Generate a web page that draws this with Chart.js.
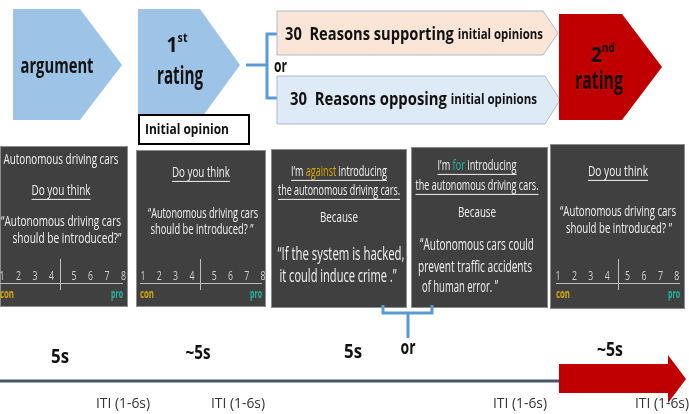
<!DOCTYPE html>
<html>
<head>
<meta charset="utf-8">
<script src="https://cdn.jsdelivr.net/npm/chart.js@4"></script>
<style>
  html, body { margin: 0; padding: 0; background: #fff; }
  #wrap { width: 689px; height: 414px; }
</style>
</head>
<body>
<div id="wrap"><canvas id="chart" width="689" height="414"></canvas></div>
<script>
// --- Data ---
const stageLabels = ['argument', '1st rating', '2nd rating'];
const reasonLabels = [
    ['30  ', 'Reasons supporting ', 'initial opinions'],
    ['30  ', 'Reasons opposing ', 'initial opinions']
];
const durationLabels = ['5s', '~5s', '5s', '~5s'];
const itiLabels = ['ITI (1-6s)', 'ITI (1-6s)', 'ITI (1-6s)', 'ITI (1-6s)'];
const ratingTicks = [1, 2, 3, 4, 5, 6, 7, 8];
const questionLines = ['\u201CAutonomous driving cars', 'should be introduced?\u201D'];
const againstLines = ['\u201CIf the system is hacked,', 'it could induce crime .\u201D'];
const forLines = ['\u201CAutonomous cars could', 'prevent traffic accidents', 'of human error. \u201D'];

// --- Look ---
const FONT = '"Open Sans", "Noto Sans", sans-serif';
const C = {
    blue: '#9dc3e6', peach: '#fbe5d6', paleBlue: '#deebf7', edge: '#adb9ca',
    red: '#c00000', brace: '#5b9bd5', panel: '#404040', panelEdge: '#8c8c8c',
    text: '#f2f2f2', gold: '#d6a800', teal: '#1fb89c', axis: '#44546a', ink: '#111'
};

function txt(ctx, s, x, y, o) {
    ctx.save();
    ctx.font = (o.bold ? 'bold ' : '') + o.size + 'px ' + FONT;
    const m = ctx.measureText(s).width;
    const sx = o.w ? o.w / m : 0.86;
    ctx.translate(x, y);
    ctx.scale(sx, 1);
    ctx.textAlign = o.align || 'center';
    ctx.textBaseline = 'middle';
    ctx.fillStyle = o.color || C.ink;
    ctx.fillText(s, 0, 0);
    ctx.restore();
    return m * sx;
}

// several coloured pieces on one line, fitted to width w around cx
function runs(ctx, parts, cx, y, o) {
    ctx.save();
    const widths = parts.map(p => {
        ctx.font = (o.bold || p.bold ? 'bold ' : '') + (p.size || o.size) + 'px ' + FONT;
        return ctx.measureText(p.t).width;
    });
    const total = widths.reduce((a, b) => a + b, 0);
    const sx = o.w ? o.w / total : 0.86;
    let x = o.align === 'left' ? cx : cx - total * sx / 2;
    const x0 = x;
    parts.forEach((p, i) => {
        ctx.save();
        ctx.font = (o.bold || p.bold ? 'bold ' : '') + (p.size || o.size) + 'px ' + FONT;
        ctx.translate(x, y + (p.dy || 0));
        ctx.scale(sx, 1);
        ctx.textAlign = 'left';
        ctx.textBaseline = 'middle';
        ctx.fillStyle = p.color || o.color;
        ctx.fillText(p.t, 0, 0);
        ctx.restore();
        x += widths[i] * sx;
    });
    if (o.underline) {
        ctx.strokeStyle = o.color;
        ctx.lineWidth = 1;
        ctx.beginPath();
        ctx.moveTo(x0, y + o.size * 0.6);
        ctx.lineTo(x, y + o.size * 0.6);
        ctx.stroke();
    }
    ctx.restore();
}

function poly(ctx, pts, fill, stroke) {
    ctx.beginPath();
    pts.forEach((p, i) => i ? ctx.lineTo(p[0], p[1]) : ctx.moveTo(p[0], p[1]));
    ctx.closePath();
    ctx.fillStyle = fill;
    ctx.fill();
    if (stroke) { ctx.strokeStyle = stroke; ctx.lineWidth = 1; ctx.stroke(); }
}

function ratingScale(ctx, x0, step, gap, divX, left, right) {
    ratingTicks.forEach((t, i) => {
        txt(ctx, String(t), x0 + i * step + (i >= 4 ? gap : 0), 277, { size: 12, color: '#d0d0d0', w: 5 });
    });
    ctx.strokeStyle = '#bdbdbd';
    ctx.lineWidth = 1;
    ctx.beginPath();
    ctx.moveTo(left, 283.5); ctx.lineTo(right, 283.5);
    ctx.moveTo(divX + 0.5, 259); ctx.lineTo(divX + 0.5, 290);
    ctx.stroke();
    txt(ctx, 'con', left, 295, { size: 12, bold: true, color: C.gold, align: 'left', w: 14 });
    txt(ctx, 'pro', right, 295, { size: 12, bold: true, color: C.teal, align: 'right', w: 12 });
}

const diagram = {
    id: 'diagram',
    afterDraw(chart) {
        const ctx = chart.ctx;
        const X = v => chart.scales.x.getPixelForValue(v);
        const Y = v => chart.scales.y.getPixelForValue(v);
        const P = (a, b) => [X(a), Y(b)];

        // --- top row of arrows ---
        poly(ctx, [P(13, 9), P(80, 9), P(122, 65), P(80, 120), P(13, 120)], C.blue);
        txt(ctx, stageLabels[0], X(57), Y(67), { size: 21, bold: true, w: 73 });

        poly(ctx, [P(138, 9), P(200, 9), P(240, 65), P(200, 120), P(138, 120)], C.blue);
        runs(ctx, [{ t: '1' }, { t: 'st', size: 12, dy: -7 }], X(177), Y(46), { size: 22, bold: true, color: C.ink, w: 21 });
        txt(ctx, 'rating', X(180), Y(77), { size: 25, bold: true, w: 46 });

        ctx.fillStyle = '#fff';
        ctx.fillRect(X(138), Y(114), 112, 31);
        ctx.strokeStyle = '#000';
        ctx.lineWidth = 2;
        ctx.strokeRect(X(139), Y(115), 110, 29);
        txt(ctx, 'Initial opinion', X(145), Y(130), { size: 15, bold: true, align: 'left', w: 84 });

        // brace to the two reason boxes
        ctx.strokeStyle = C.brace;
        ctx.lineWidth = 3;
        ctx.beginPath();
        ctx.moveTo(X(246), Y(65)); ctx.lineTo(X(267), Y(65));
        ctx.moveTo(X(277), Y(34)); ctx.lineTo(X(267), Y(34)); ctx.lineTo(X(267), Y(98)); ctx.lineTo(X(277), Y(98));
        ctx.stroke();
        txt(ctx, 'or', X(274), Y(67), { size: 17, bold: true, align: 'left', w: 13 });

        poly(ctx, [P(277, 11), P(543, 11), P(558, 33), P(543, 55), P(277, 55)], C.peach, C.edge);
        poly(ctx, [P(277, 76), P(545, 76), P(560, 100), P(545, 124), P(277, 124)], C.paleBlue, C.edge);
        runs(ctx, [{ t: reasonLabels[0][0] }, { t: reasonLabels[0][1] }, { t: reasonLabels[0][2], size: 14 }],
            X(285), Y(35), { size: 18, bold: true, color: C.ink, align: 'left', w: 258 });
        runs(ctx, [{ t: reasonLabels[1][0] }, { t: reasonLabels[1][1] }, { t: reasonLabels[1][2], size: 14 }],
            X(290), Y(100), { size: 18, bold: true, color: C.ink, align: 'left', w: 247 });

        poly(ctx, [P(559, 14), P(622, 14), P(662, 67), P(622, 120), P(559, 120)], C.red);
        runs(ctx, [{ t: '2' }, { t: 'nd', size: 12, dy: -7 }], X(603), Y(56), { size: 22, bold: true, color: C.ink, w: 24 });
        txt(ctx, 'rating', X(599), Y(82), { size: 25, bold: true, w: 48 });

        // --- screens ---
        const panels = [[0, 146, 128, 307], [136, 150, 266, 307], [271, 149, 407, 308], [411, 147, 548, 308], [550, 144, 685, 309]];
        panels.forEach(([l, t, r, b]) => {
            ctx.fillStyle = C.panel;
            ctx.fillRect(X(l), Y(t), X(r) - X(l), Y(b) - Y(t));
            ctx.strokeStyle = C.panelEdge;
            ctx.lineWidth = 1;
            ctx.strokeRect(X(l) + 0.5, Y(t) + 0.5, X(r) - X(l) - 1, Y(b) - Y(t) - 1);
        });
        const W = { size: 14, color: C.text };

        // screen 1: argument
        txt(ctx, 'Autonomous driving cars', X(61), Y(160), { ...W, w: 115 });
        runs(ctx, [{ t: 'Do you think' }], X(61), Y(191), { ...W, w: 59, underline: true });
        txt(ctx, questionLines[0], X(61), Y(222), { ...W, w: 120 });
        txt(ctx, questionLines[1], X(67), Y(239), { ...W, w: 109 });
        ratingScale(ctx, 2, 16.5, 6, 60, 0, 123);

        // screen 2: first rating
        runs(ctx, [{ t: 'Do you think' }], X(201), Y(173), { ...W, w: 58, underline: true });
        txt(ctx, questionLines[0], X(203), Y(214), { ...W, w: 110 });
        txt(ctx, questionLines[1].replace('?\u201D', '? \u201D'), X(202), Y(230), { ...W, w: 103 });
        ratingScale(ctx, 143, 16.3, 6, 200, 140, 262);

        // screen 3: against
        runs(ctx, [{ t: 'I\u2019m ' }, { t: 'against', color: C.gold }, { t: ' introducing' }], X(339), Y(172), { ...W, w: 96, underline: true });
        runs(ctx, [{ t: 'the autonomous driving cars.' }], X(339), Y(191), { ...W, w: 122, underline: true });
        txt(ctx, 'Because', X(339), Y(218), { ...W, size: 15, w: 38 });
        txt(ctx, againstLines[0], X(341), Y(255), { ...W, size: 18, w: 127 });
        txt(ctx, againstLines[1], X(338), Y(277), { ...W, size: 18, w: 117 });

        // screen 4: for
        runs(ctx, [{ t: 'I\u2019m ' }, { t: 'for', color: C.teal }, { t: ' introducing' }], X(477), Y(166), { ...W, w: 79, underline: true });
        runs(ctx, [{ t: 'the autonomous driving cars.' }], X(477), Y(186), { ...W, w: 123, underline: true });
        txt(ctx, 'Because', X(477), Y(213), { ...W, size: 15, w: 38 });
        txt(ctx, forLines[0], X(477), Y(245), { ...W, size: 16, w: 114 });
        txt(ctx, forLines[1], X(475), Y(267), { ...W, size: 16, w: 114 });
        txt(ctx, forLines[2], X(422), Y(287), { ...W, size: 16, w: 76, align: 'left' });

        // screen 5: second rating
        runs(ctx, [{ t: 'Do you think' }], X(618), Y(172), { ...W, w: 60, underline: true });
        txt(ctx, questionLines[0], X(618), Y(212), { ...W, w: 116 });
        txt(ctx, questionLines[1].replace('?\u201D', '? \u201D'), X(619), Y(229), { ...W, w: 106 });
        ratingScale(ctx, 558, 16.4, 4, 618, 556, 680);

        // brace under screens 3 and 4
        ctx.strokeStyle = C.brace;
        ctx.lineWidth = 3;
        ctx.beginPath();
        ctx.moveTo(X(383), Y(305)); ctx.lineTo(X(383), Y(313)); ctx.lineTo(X(432), Y(313)); ctx.lineTo(X(432), Y(305));
        ctx.moveTo(X(408), Y(313)); ctx.lineTo(X(408), Y(338));
        ctx.stroke();

        // --- time line ---
        ctx.strokeStyle = C.axis;
        ctx.lineWidth = 3;
        ctx.beginPath();
        ctx.moveTo(X(0), Y(381)); ctx.lineTo(X(560), Y(381));
        ctx.stroke();
        poly(ctx, [P(559, 364), P(668, 364), P(668, 355), P(686, 379), P(668, 403), P(668, 393), P(559, 393)], C.red);

        const durX = [60, 198, 353, 610], durY = [357, 353, 352, 350], durW = [18, 25, 18, 26];
        durationLabels.forEach((d, i) => txt(ctx, d, X(durX[i]), Y(durY[i]), { size: 20, bold: true, w: durW[i] }));
        txt(ctx, 'or', X(408), Y(349), { size: 19, bold: true, w: 15 });

        const itiX = [123, 238, 520, 662];
        itiLabels.forEach((s, i) => txt(ctx, s, X(itiX[i]), Y(404), { size: 15, color: '#333', w: 54 }));
    }
};

new Chart(document.getElementById('chart'), {
    type: 'scatter',
    data: { datasets: [] },
    options: {
        responsive: false,
        devicePixelRatio: 1,
        animation: false,
        layout: { padding: 0 },
        plugins: { legend: { display: false }, tooltip: { enabled: false } },
        scales: {
            x: { type: 'linear', min: 0, max: 689, display: false },
            y: { type: 'linear', min: 0, max: 414, reverse: true, display: false }
        }
    },
    plugins: [diagram]
});
</script>
</body>
</html>
